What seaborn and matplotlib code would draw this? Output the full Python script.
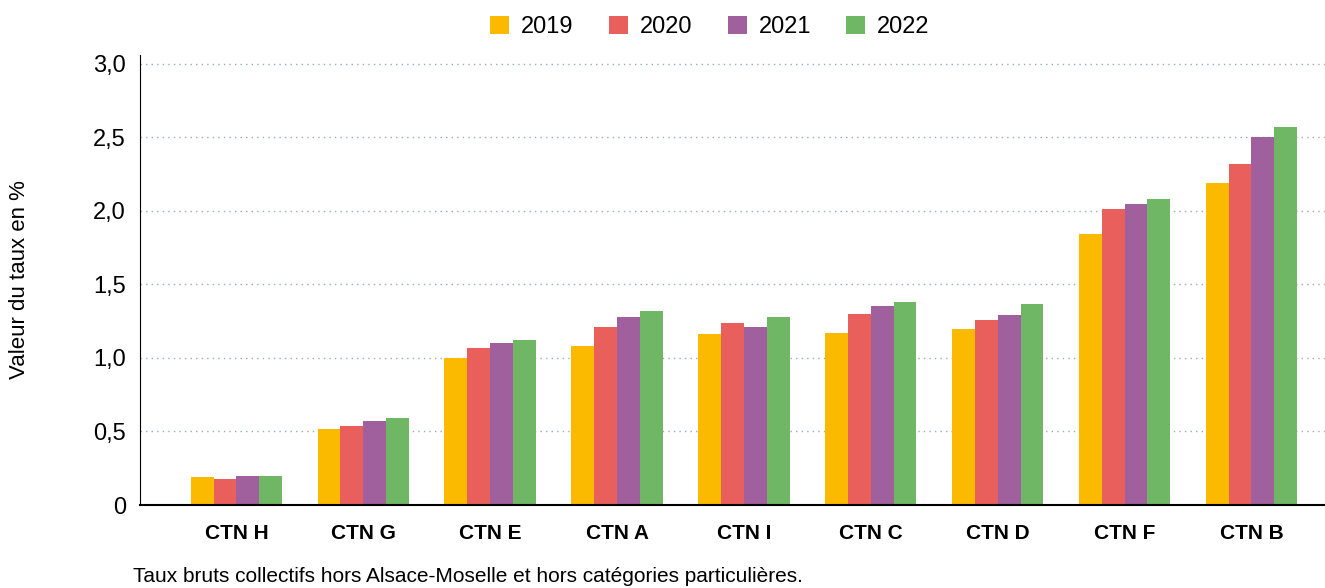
import matplotlib
matplotlib.use("Agg")
import matplotlib.pyplot as plt
import seaborn as sns
import pandas as pd
from matplotlib import font_manager

# Données
categories = ["CTN H", "CTN G", "CTN E", "CTN A", "CTN I", "CTN C", "CTN D", "CTN F", "CTN B"]
years = ["2019", "2020", "2021", "2022"]
v2019 = [0.19, 0.52, 1.00, 1.08, 1.16, 1.17, 1.20, 1.84, 2.19]
v2020 = [0.18, 0.54, 1.07, 1.21, 1.24, 1.30, 1.26, 2.01, 2.32]
v2021 = [0.20, 0.57, 1.10, 1.28, 1.21, 1.35, 1.29, 2.05, 2.50]
v2022 = [0.20, 0.59, 1.12, 1.32, 1.28, 1.38, 1.37, 2.08, 2.57]
colors = ["#FBBA00", "#E85F5C", "#A0609E", "#6FB665"]
yticks = [0, 0.5, 1.0, 1.5, 2.0, 2.5, 3.0]
ytick_labels = ["0", "0,5", "1,0", "1,5", "2,0", "2,5", "3,0"]

rows = []
for year, vals in zip(years, [v2019, v2020, v2021, v2022]):
    for cat, v in zip(categories, vals):
        rows.append({"CTN": cat, "Année": year, "Taux": v})
df = pd.DataFrame(rows)

sns.set_style("white")
names = {f.name for f in font_manager.fontManager.ttflist}
font = "Liberation Sans Narrow" if "Liberation Sans Narrow" in names else "Liberation Sans"
plt.rcParams["font.family"] = [font, "DejaVu Sans"]
plt.rcParams["text.color"] = "black"
plt.rcParams["xtick.color"] = "black"
plt.rcParams["ytick.color"] = "black"

fig = plt.figure(figsize=(13.25, 5.88), dpi=100)
ax = fig.add_axes([140 / 1325, 1 - 505 / 588, 1185 / 1325, 450 / 588])

sns.barplot(data=df, x="CTN", y="Taux", hue="Année", palette=colors,
            width=0.72, gap=0, saturation=1, ax=ax, linewidth=0)

ax.set_ylim(0, 3.06)
ax.set_xlim(-0.76, 8.58)
ax.set_yticks(yticks)
ax.set_yticklabels(ytick_labels, fontsize=17)
ax.set_xticks(range(len(categories)))
ax.set_xticklabels(categories, fontsize=15, fontweight="bold")
ax.tick_params(axis="y", length=0, pad=10)
ax.tick_params(axis="x", length=0, pad=14)
ax.yaxis.grid(True, linestyle=(0, (1, 3)), color="#9aaab8", linewidth=1)
ax.set_axisbelow(True)
for s in ["top", "right"]:
    ax.spines[s].set_visible(False)
ax.spines["left"].set_color("black")
ax.spines["bottom"].set_color("black")
ax.spines["bottom"].set_linewidth(1.5)
ax.set_xlabel("")
ax.set_ylabel("")

fig.text(20 / 1325, 1 - 280 / 588, "Valeur du taux en %", rotation=90,
         ha="center", va="center", fontsize=16)
fig.text(133 / 1325, 1 - 577 / 588, "Taux bruts collectifs hors Alsace-Moselle et hors catégories particulières.",
         ha="left", va="center", fontsize=15)

ax.legend(loc="center", bbox_to_anchor=(0.481, 1.062), ncol=4, frameon=False,
          fontsize=17, handlelength=0.8, handleheight=0.8, handletextpad=0.5,
          columnspacing=1.5, title=None)

fig.savefig("out.png", dpi=100)
